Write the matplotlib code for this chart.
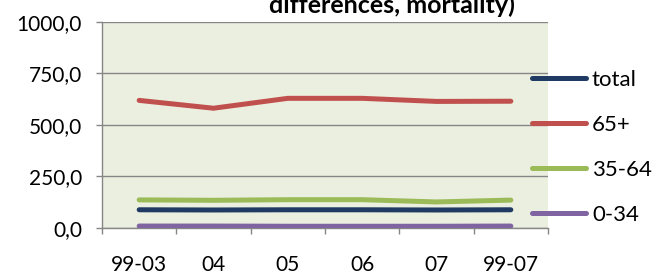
import matplotlib
matplotlib.use("Agg")
import matplotlib.pyplot as plt
import numpy as np

# data
periods = ["99-03", "04", "05", "06", "07", "99-07"]
total = [87, 86, 87, 87, 86, 87]
age_65_plus = [618, 580, 628, 628, 613, 614]
age_35_64 = [135, 133, 136, 136, 125, 134]
age_0_34 = [8, 8, 7, 7, 7, 8]

series = [
    ("total", total, "#1F3B63"),
    ("65+", age_65_plus, "#C0504D"),
    ("35-64", age_35_64, "#9BBB59"),
    ("0-34", age_0_34, "#8064A2"),
]
# drawing order: purple first, navy on top of green etc.
draw_order = ["0-34", "35-64", "total", "65+"]

plt.rcParams["font.family"] = ["Lato", "DejaVu Sans"]

fig = plt.figure(figsize=(6.7, 2.77), dpi=100)
ax = fig.add_axes([102 / 670, 1 - 227.7 / 277, (548 - 102) / 670, (227.7 - 21.7) / 277])
ax.set_facecolor("#EBEFDF")

x = np.arange(len(periods))
handles = {}
for name, vals, col in series:
    (ln,) = ax.plot(x, vals, color=col, lw=3.6, solid_capstyle="round",
                    solid_joinstyle="round", label=name,
                    zorder=3 + draw_order.index(name))
    handles[name] = ln

ax.set_xlim(-0.5, len(periods) - 0.5)
ax.set_ylim(0, 1000)
ax.set_yticks([0, 250, 500, 750, 1000])
ax.set_yticklabels(["0,0", "250,0", "500,0", "750,0", "1000,0"])
ax.set_xticks(x)
ax.set_xticklabels(periods)
ax.set_xticks(np.arange(-0.5, len(periods)), minor=True)

ax.tick_params(axis="x", which="major", length=0, pad=20, labelsize=15)
ax.tick_params(axis="x", which="minor", length=4.3, width=1, color="#868686", direction="out")
ax.tick_params(axis="y", length=4.3, width=1, color="#868686", direction="out", pad=10, labelsize=15)

ax.grid(axis="y", color="#868686", lw=1)
ax.set_axisbelow(True)
for side in ["top", "right"]:
    ax.spines[side].set_visible(False)
for side in ["left", "bottom"]:
    ax.spines[side].set_color("#868686")
    ax.spines[side].set_linewidth(1)

leg = fig.legend([handles[n] for n, _, _ in series], [n for n, _, _ in series],
                 loc="upper left", bbox_to_anchor=(532 / 670, 1 - 70 / 277),
                 frameon=False, fontsize=16, borderpad=0, borderaxespad=0,
                 handlelength=2.45, handletextpad=0.25, labelspacing=1.12)

# chart title, its top cut off by the image edge as in the source
fig.text(392 / 670, 1 - 13 / 277, "differences, mortality)", ha="center",
         va="baseline", fontsize=18, fontweight="bold")

fig.savefig("out.png", dpi=100)
